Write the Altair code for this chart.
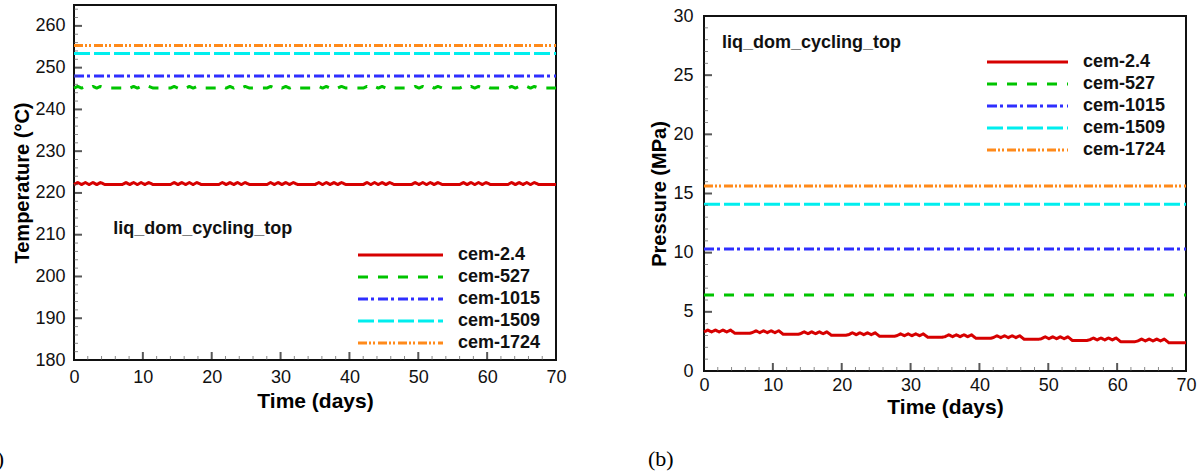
import altair as alt
import pandas as pd

FONT = "Liberation Sans"

series_names = ["cem-2.4", "cem-527", "cem-1015", "cem-1509", "cem-1724"]
series_colors = ["#d60000", "#00c400", "#2f2fff", "#00eeee", "#ff8a1a"]
series_dashes = [[1, 0], [10, 10], [10, 3, 3, 4], [16, 4], [9, 2, 2, 2, 2, 3]]

# time grid: weekly cycling (wiggles on weekdays, flat at week end)
week_offsets = [0, 0.55, 1.1, 1.65, 2.2, 2.75, 3.3, 3.85, 4.5, 6.6]
cycle_days = [7 * w + o for w in range(10) for o in week_offsets] + [70]
flat_days = [0, 10, 20, 30, 40, 50, 60, 70]

# ---------------- (a) temperature, deg C ----------------
temp_cem_2_4 = [
    222.0, 222.5, 222.0, 222.5, 222.0, 222.5, 222.0, 222.5, 222.0, 222.0,
    222.0, 222.5, 222.0, 222.5, 222.0, 222.5, 222.0, 222.5, 222.0, 222.0,
    222.0, 222.5, 222.0, 222.5, 222.0, 222.5, 222.0, 222.5, 222.0, 222.0,
    222.0, 222.5, 222.0, 222.5, 222.0, 222.5, 222.0, 222.5, 222.0, 222.0,
    222.0, 222.5, 222.0, 222.5, 222.0, 222.5, 222.0, 222.5, 222.0, 222.0,
    222.0, 222.5, 222.0, 222.5, 222.0, 222.5, 222.0, 222.5, 222.0, 222.0,
    222.0, 222.5, 222.0, 222.5, 222.0, 222.5, 222.0, 222.5, 222.0, 222.0,
    222.0, 222.5, 222.0, 222.5, 222.0, 222.5, 222.0, 222.5, 222.0, 222.0,
    222.0, 222.5, 222.0, 222.5, 222.0, 222.5, 222.0, 222.5, 222.0, 222.0,
    222.0, 222.5, 222.0, 222.5, 222.0, 222.5, 222.0, 222.5, 222.0, 222.0,
    222.0,
]
temp_cem_527 = [
    245.1, 245.5, 245.1, 245.5, 245.1, 245.5, 245.1, 245.5, 245.1, 245.1,
    245.1, 245.5, 245.1, 245.5, 245.1, 245.5, 245.1, 245.5, 245.1, 245.1,
    245.1, 245.5, 245.1, 245.5, 245.1, 245.5, 245.1, 245.5, 245.1, 245.1,
    245.1, 245.5, 245.1, 245.5, 245.1, 245.5, 245.1, 245.5, 245.1, 245.1,
    245.1, 245.5, 245.1, 245.5, 245.1, 245.5, 245.1, 245.5, 245.1, 245.1,
    245.1, 245.5, 245.1, 245.5, 245.1, 245.5, 245.1, 245.5, 245.1, 245.1,
    245.1, 245.5, 245.1, 245.5, 245.1, 245.5, 245.1, 245.5, 245.1, 245.1,
    245.1, 245.5, 245.1, 245.5, 245.1, 245.5, 245.1, 245.5, 245.1, 245.1,
    245.1, 245.5, 245.1, 245.5, 245.1, 245.5, 245.1, 245.5, 245.1, 245.1,
    245.1, 245.5, 245.1, 245.5, 245.1, 245.5, 245.1, 245.5, 245.1, 245.1,
    245.1,
]
temp_cem_1015 = [248.0, 248.0, 248.0, 248.0, 248.0, 248.0, 248.0, 248.0]
temp_cem_1509 = [253.4, 253.4, 253.4, 253.4, 253.4, 253.4, 253.4, 253.4]
temp_cem_1724 = [255.3, 255.3, 255.3, 255.3, 255.3, 255.3, 255.3, 255.3]

# ---------------- (b) pressure, MPa ----------------
pres_cem_2_4 = [
    3.30, 3.46, 3.30, 3.46, 3.30, 3.46, 3.30, 3.46, 3.18, 3.18,
    3.24, 3.40, 3.24, 3.40, 3.24, 3.40, 3.24, 3.40, 3.10, 3.10,
    3.15, 3.31, 3.15, 3.31, 3.15, 3.31, 3.15, 3.31, 3.02, 3.02,
    3.07, 3.23, 3.07, 3.23, 3.07, 3.23, 3.07, 3.23, 2.93, 2.93,
    2.98, 3.14, 2.98, 3.14, 2.98, 3.14, 2.98, 3.14, 2.85, 2.85,
    2.90, 3.06, 2.90, 3.06, 2.90, 3.06, 2.90, 3.06, 2.76, 2.76,
    2.82, 2.98, 2.82, 2.98, 2.82, 2.98, 2.82, 2.98, 2.68, 2.68,
    2.73, 2.89, 2.73, 2.89, 2.73, 2.89, 2.73, 2.89, 2.58, 2.58,
    2.63, 2.79, 2.63, 2.79, 2.63, 2.79, 2.63, 2.79, 2.48, 2.48,
    2.54, 2.70, 2.54, 2.70, 2.54, 2.70, 2.54, 2.70, 2.39, 2.39,
    2.39,
]
pres_cem_527 = [6.42, 6.42, 6.42, 6.42, 6.42, 6.42, 6.42, 6.42]
pres_cem_1015 = [10.31, 10.31, 10.31, 10.31, 10.31, 10.31, 10.31, 10.31]
pres_cem_1509 = [14.09, 14.09, 14.09, 14.09, 14.09, 14.09, 14.09, 14.09]
pres_cem_1724 = [15.63, 15.63, 15.63, 15.63, 15.63, 15.63, 15.63, 15.63]

x_major = [0, 10, 20, 30, 40, 50, 60, 70]
x_minor = [v for v in range(2, 70, 2) if v % 10 != 0]
temp_major = [180, 190, 200, 210, 220, 230, 240, 250, 260]
temp_minor = [v for v in range(182, 265, 2) if v % 10 != 0]
pres_major = [0, 5, 10, 15, 20, 25, 30]
pres_minor = [v for v in range(1, 30) if v % 5 != 0]

note_text = "liq_dom_cycling_top"


def long_df(pairs):
    rows = []
    for name, days, vals in pairs:
        for t, v in zip(days, vals):
            rows.append({"t": t, "value": v, "series": name})
    return pd.DataFrame(rows)


temp_df = long_df([
    ("cem-2.4", cycle_days, temp_cem_2_4),
    ("cem-527", cycle_days, temp_cem_527),
    ("cem-1015", flat_days, temp_cem_1015),
    ("cem-1509", flat_days, temp_cem_1509),
    ("cem-1724", flat_days, temp_cem_1724),
])
pres_df = long_df([
    ("cem-2.4", cycle_days, pres_cem_2_4),
    ("cem-527", flat_days, pres_cem_527),
    ("cem-1015", flat_days, pres_cem_1015),
    ("cem-1509", flat_days, pres_cem_1509),
    ("cem-1724", flat_days, pres_cem_1724),
])

color_enc = alt.Color("series:N", scale=alt.Scale(domain=series_names, range=series_colors), legend=None)
dash_enc = alt.StrokeDash("series:N", scale=alt.Scale(domain=series_names, range=series_dashes), legend=None)


def panel(df, xrange, ybottom, ytop, ydomain, ymaj, ymin, ytitle,
          x_off, y_off, xlabpad, ylabpad, xtitle_y, ytitle_x,
          note_xy, leg_y, leg_x0, leg_x1, leg_tx):
    def xs():
        return alt.Scale(domain=[0, 70], range=xrange, nice=False, zero=False)

    def ys():
        return alt.Scale(domain=ydomain, range=[ybottom, ytop], nice=False, zero=False)

    xaxis = alt.Axis(orient="bottom", offset=x_off, values=x_major, ticks=False, tickSize=0,
                     domain=False, grid=False, labelFont=FONT, labelFontSize=18,
                     labelColor="#111", labelPadding=xlabpad, labelFlush=False,
                     labelOverlap=False, title="Time (days)", titleFont=FONT,
                     titleFontSize=21, titleFontWeight="bold", titleColor="#000",
                     titleX=(xrange[0] + xrange[1]) / 2, titleY=xtitle_y,
                     titleBaseline="alphabetic", titleAlign="center")
    yaxis = alt.Axis(orient="left", offset=y_off, values=ymaj, ticks=False, tickSize=0,
                     domain=False, grid=False, labelFont=FONT, labelFontSize=18,
                     labelColor="#111", labelPadding=ylabpad, labelFlush=False,
                     labelOverlap=False, title=ytitle, titleFont=FONT,
                     titleFontSize=20, titleFontWeight="bold", titleColor="#000",
                     titleX=ytitle_x, titleY=(ybottom + ytop) / 2, titleAngle=270,
                     titleBaseline="alphabetic", titleAlign="center")

    lines = alt.Chart(df).mark_line(strokeWidth=3, strokeCap="butt", strokeJoin="round").encode(
        x=alt.X("t:Q", scale=xs(), axis=xaxis),
        y=alt.Y("value:Q", scale=ys(), axis=yaxis),
        color=color_enc,
        strokeDash=dash_enc,
    )
    one = pd.DataFrame({"k": [0]})
    frame = alt.Chart(one).mark_rect(fill="transparent", stroke="#111", strokeWidth=2).encode(
        x=alt.XDatum(0, scale=xs(), axis=None), x2=alt.X2Datum(70),
        y=alt.YDatum(ydomain[0], scale=ys(), axis=None), y2=alt.Y2Datum(ydomain[1]),
    )
    xt_major = alt.Chart(pd.DataFrame({"v": x_major})).mark_tick(
        orient="vertical", size=8, thickness=2, yOffset=-4, color="#111").encode(
        x=alt.X("v:Q", scale=xs(), axis=None), y=alt.YDatum(ydomain[0], scale=ys(), axis=None))
    xt_minor = alt.Chart(pd.DataFrame({"v": x_minor})).mark_tick(
        orient="vertical", size=4, thickness=1, yOffset=-2, color="#555").encode(
        x=alt.X("v:Q", scale=xs(), axis=None), y=alt.YDatum(ydomain[0], scale=ys(), axis=None))
    yt_major = alt.Chart(pd.DataFrame({"v": ymaj})).mark_tick(
        orient="horizontal", size=8, thickness=2, xOffset=4, color="#111").encode(
        y=alt.Y("v:Q", scale=ys(), axis=None), x=alt.XDatum(0, scale=xs(), axis=None))
    yt_minor = alt.Chart(pd.DataFrame({"v": ymin})).mark_tick(
        orient="horizontal", size=4, thickness=1, xOffset=2, color="#555").encode(
        y=alt.Y("v:Q", scale=ys(), axis=None), x=alt.XDatum(0, scale=xs(), axis=None))
    note = alt.Chart(pd.DataFrame({"text": [note_text]})).mark_text(
        align="left", baseline="alphabetic", font=FONT, fontSize=18, fontWeight="bold",
        color="#111").encode(
        x=alt.XDatum(note_xy[0], scale=xs(), axis=None),
        y=alt.YDatum(note_xy[1], scale=ys(), axis=None), text="text:N")

    leg_df = pd.DataFrame({"series": series_names})

    def ly():
        return alt.Y("series:N", scale=alt.Scale(type="point", domain=series_names, range=leg_y,
                                                 padding=0), axis=None)

    leg_rules = alt.Chart(leg_df).mark_rule(strokeWidth=3, strokeCap="butt").encode(
        x=alt.value(leg_x0), x2=alt.value(leg_x1), y=ly(), color=color_enc, strokeDash=dash_enc)
    leg_text = alt.Chart(leg_df).mark_text(
        align="left", baseline="middle", font=FONT, fontSize=18, fontWeight="bold",
        color="#111").encode(x=alt.value(leg_tx), y=ly(), text="series:N")
    return [frame, lines, xt_minor, xt_major, yt_minor, yt_major, note, leg_rules, leg_text]


layers_a = panel(temp_df, [74, 556], 360, 5, [180, 265], temp_major, temp_minor,
                 "Temperature (°C)", -115, -74, 8, 9, 47, -46,
                 (5.7, 210.2), [255, 343], 358, 443, 458)
layers_b = panel(pres_df, [704, 1186], 371, 16, [0, 30], pres_major, pres_minor,
                 "Pressure (MPa)", -104, -704, 5.5, 11, 42, -39,
                 (2.6, 27.3), [62, 150], 987, 1068, 1083)

tag_b = alt.Chart(pd.DataFrame({"label": ["(b)"]})).mark_text(
    align="left", baseline="alphabetic", font="Liberation Serif", fontSize=22, color="#000").encode(
    x=alt.value(648), y=alt.value(466), text="label:N")
tag_a = alt.Chart(pd.DataFrame({"label": ["(a)"]})).mark_text(
    align="right", baseline="alphabetic", font="Liberation Serif", fontSize=22, color="#000").encode(
    x=alt.value(4), y=alt.value(466), text="label:N")

chart = alt.layer(*layers_a, *layers_b, tag_a, tag_b).resolve_scale(
    x="independent", y="independent"
).properties(
    width=1201, height=475, autosize=alt.AutoSizeParams(type="none"), padding=0,
    background="white",
).configure_view(stroke=None)

chart.save("out.html", embed_options={"renderer": "svg", "actions": False})
